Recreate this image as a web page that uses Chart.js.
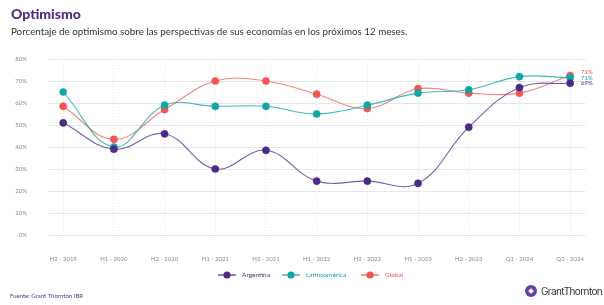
<!DOCTYPE html>
<html lang="es">
<head>
<meta charset="utf-8">
<script src="https://cdn.jsdelivr.net/npm/chart.js@4"></script>
<style>
  html, body { margin: 0; padding: 0; background: #fff; }
  body { width: 604px; height: 305px; position: relative; overflow: hidden; font-family: "Lato", "Open Sans", sans-serif; }
  #wrap { position: absolute; left: 0; top: 0; width: 604px; height: 305px; }
  .title { position: absolute; left: 11px; top: 5px; font-size: 14px; font-weight: 900; color: #4f2d7f; }
  .subtitle { position: absolute; left: 11px; top: 25px; font-size: 9.8px; color: #333; }
  .source { position: absolute; left: 10px; top: 292px; font-size: 6px; color: #4a3a7a; }
  .logo { position: absolute; left: 525px; top: 285px; display: flex; align-items: center; white-space: nowrap; }
  .logo-icon { width: 12px; height: 12px; border-radius: 50%; background: #6a3fa8; position: relative; margin-right: 4px; }
  .logo-icon::after { content: ""; position: absolute; left: 4px; top: 4px; width: 4px; height: 4px; background: #fff; transform: rotate(45deg); }
  .logo-text { font-family: "Inter", sans-serif; font-size: 10px; color: #333; letter-spacing: -0.6px; }
</style>
</head>
<body>
<div id="wrap"><canvas id="chart" width="604" height="305"></canvas></div>
<div class="title">Optimismo</div>
<div class="subtitle">Porcentaje de optimismo sobre las perspectivas de sus economías en los próximos 12 meses.</div>
<div class="source">Fuente: Grant Thornton IBR</div>
<div class="logo"><span class="logo-icon"></span><span class="logo-text">GrantThornton</span></div>
<script>
const PERIODS = [
  "H2 - 2019", "H1 - 2020", "H2 - 2020", "H1 - 2021", "H2 - 2021", "H1 - 2022",
  "H2 - 2022", "H1 - 2023", "H2 - 2023", "Q1 - 2024", "Q2 - 2024"
];

const ARGENTINA = [51, 39, 46, 30, 38.5, 24.5, 24.5, 23.5, 49, 67, 69];
const LATAM = [65, 40, 59, 58.5, 58.5, 55, 59, 64.5, 66, 72, 71.5];
const GLOBAL = [58.5, 43.5, 57, 70, 70, 64, 57.5, 66.5, 64.5, 64.5, 72.5];

const END_LABELS = ["69%", "71%", "71%"];
const Y_TICKS = [0, 10, 20, 30, 40, 50, 60, 70, 80];

const COLORS = {
  argentina: "#4b2a86",
  argentinaLine: "rgba(90, 70, 150, 0.85)",
  latam: "#10a6a8",
  latamLine: "rgba(30, 175, 178, 0.85)",
  global: "#f2544f",
  globalLine: "rgba(240, 110, 105, 0.85)",
  grid: "#e6e6e6",
  tick: "#8a8a8a"
};

function toPoints(values) {
  return values.map((v, i) => ({ x: i, y: v }));
}

function makeDataset(label, values, color, lineColor) {
  return {
    label,
    data: toPoints(values),
    borderColor: lineColor,
    backgroundColor: color,
    pointBackgroundColor: color,
    pointBorderColor: color,
    pointRadius: 3.6,
    pointBorderWidth: 0.5,
    borderWidth: 1.1,
    tension: 0.4,
    fill: false
  };
}

const endLabelsPlugin = {
  id: "endLabels",
  afterDatasetsDraw(chart) {
    const { ctx } = chart;
    const offsets = [0, 0, -3];
    ctx.save();
    ctx.font = "6px Lato, sans-serif";
    ctx.textBaseline = "middle";
    chart.data.datasets.forEach((ds, i) => {
      const meta = chart.getDatasetMeta(i);
      const pt = meta.data[meta.data.length - 1];
      ctx.fillStyle = ds.backgroundColor;
      ctx.fillText(END_LABELS[i], pt.x + 11, pt.y + offsets[i]);
    });
    ctx.restore();
  }
};

const legendPlugin = {
  id: "customLegend",
  afterDraw(chart) {
    const { ctx } = chart;
    const markers = [227, 291, 370];
    const y = 275;
    ctx.save();
    ctx.font = "6.5px Lato, sans-serif";
    ctx.textBaseline = "middle";
    chart.data.datasets.forEach((ds, i) => {
      const x = markers[i];
      ctx.strokeStyle = ds.backgroundColor;
      ctx.lineWidth = 1.2;
      ctx.beginPath();
      ctx.moveTo(x - 9, y);
      ctx.lineTo(x + 9, y);
      ctx.stroke();
      ctx.fillStyle = ds.backgroundColor;
      ctx.beginPath();
      ctx.arc(x, y, 3.6, 0, Math.PI * 2);
      ctx.fill();
      ctx.fillText(ds.label, x + 15, y);
    });
    ctx.restore();
  }
};

new Chart(document.getElementById("chart"), {
  type: "line",
  data: {
    datasets: [
      makeDataset("Argentina", ARGENTINA, COLORS.argentina, COLORS.argentinaLine),
      makeDataset("Latinoamérica", LATAM, COLORS.latam, COLORS.latamLine),
      makeDataset("Global", GLOBAL, COLORS.global, COLORS.globalLine)
    ]
  },
  options: {
    responsive: false,
    animation: false,
    layout: { padding: { top: 59, right: 4, left: 0, bottom: 0 } },
    plugins: {
      legend: { display: false },
      tooltip: { enabled: false }
    },
    scales: {
      x: {
        type: "linear",
        min: -0.3,
        max: 10.3,
        afterBuildTicks: (scale) => {
          scale.ticks = PERIODS.map((_, i) => ({ value: i }));
        },
        afterFit: (scale) => { scale.height = 70; },
        border: { display: false, dash: [1, 2] },
        grid: { color: "#e2e2e2", drawTicks: false },
        ticks: {
          padding: 20,
          color: COLORS.tick,
          font: { size: 6, family: "Lato, sans-serif" },
          maxRotation: 0,
          callback: (v) => PERIODS[v]
        }
      },
      y: {
        min: 0,
        max: 80,
        afterBuildTicks: (scale) => {
          scale.ticks = Y_TICKS.map((v) => ({ value: v }));
        },
        afterFit: (scale) => { scale.width = 48; },
        border: { display: false },
        grid: { color: COLORS.grid, drawTicks: false },
        ticks: {
          padding: 21,
          color: COLORS.tick,
          font: { size: 6, family: "Lato, sans-serif" },
          callback: (v) => v + "%"
        }
      }
    }
  },
  plugins: [endLabelsPlugin, legendPlugin]
});
</script>
</body>
</html>
